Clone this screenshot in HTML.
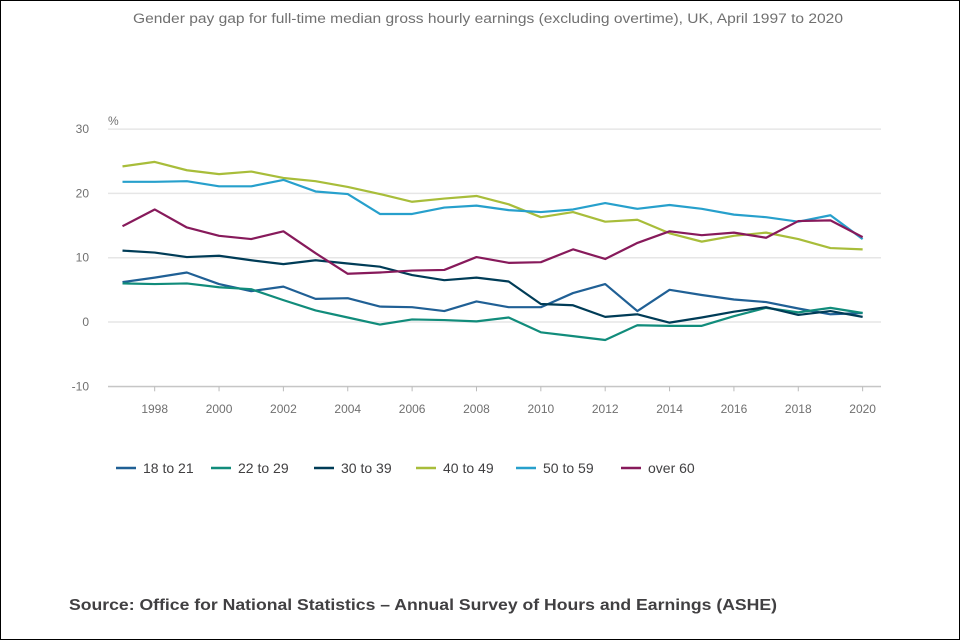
<!DOCTYPE html>
<html><head><meta charset="utf-8"><style>
body{margin:0;background:#fff;}
#wrap{position:relative;width:958px;height:638px;border:1px solid #000;font-family:"Liberation Sans",sans-serif;}
svg text{font-family:"Liberation Sans",sans-serif;}
</style></head><body>
<div id="wrap">
<svg id="chart" width="958" height="638">
<text x="132" y="22" textLength="710" lengthAdjust="spacingAndGlyphs" font-size="13.5" fill="#707070">Gender pay gap for full-time median gross hourly earnings (excluding overtime), UK, April 1997 to 2020</text>
<text x="107" y="124" font-size="12" fill="#707070">%</text>
<text x="68" y="609" textLength="708" lengthAdjust="spacingAndGlyphs" font-size="16" font-weight="bold" fill="#414042">Source: Office for National Statistics – Annual Survey of Hours and Earnings (ASHE)</text>
</svg>
</div>
<script>
const years=[1997,1998,1999,2000,2001,2002,2003,2004,2005,2006,2007,2008,2009,2010,2011,2012,2013,2014,2015,2016,2017,2018,2019,2020];
const yTicks=[30,20,10,0,-10];
const xTicks=[1998,2000,2002,2004,2006,2008,2010,2012,2014,2016,2018,2020];
const seriesNames=["18 to 21","22 to 29","30 to 39","40 to 49","50 to 59","over 60"];
const s18to21=[6.2,6.9,7.7,5.9,4.8,5.5,3.6,3.7,2.4,2.3,1.7,3.2,2.3,2.3,4.5,5.9,1.7,5.0,4.2,3.5,3.1,2.1,1.2,1.4];
const s22to29=[6.0,5.9,6.0,5.4,5.1,3.4,1.8,0.7,-0.4,0.4,0.3,0.1,0.7,-1.6,-2.2,-2.8,-0.5,-0.6,-0.6,0.9,2.2,1.5,2.2,1.4];
const s30to39=[11.1,10.8,10.1,10.3,9.6,9.0,9.6,9.1,8.6,7.3,6.5,6.9,6.3,2.8,2.6,0.8,1.2,-0.1,0.7,1.6,2.3,1.1,1.7,0.8];
const s40to49=[24.2,24.9,23.6,23.0,23.4,22.4,21.9,21.0,19.9,18.7,19.2,19.6,18.3,16.3,17.1,15.6,15.9,13.8,12.5,13.4,13.9,12.9,11.5,11.3];
const s50to59=[21.8,21.8,21.9,21.1,21.1,22.1,20.3,19.9,16.8,16.8,17.8,18.1,17.4,17.1,17.5,18.5,17.6,18.2,17.6,16.7,16.3,15.6,16.6,12.9];
const sOver60=[14.9,17.5,14.7,13.4,12.9,14.1,10.7,7.5,7.7,8.0,8.1,10.1,9.2,9.3,11.3,9.8,12.3,14.1,13.5,13.9,13.1,15.7,15.8,13.2];
const allSeries=[s18to21,s22to29,s30to39,s40to49,s50to59,sOver60];
const colors=["#206095","#118c7b","#003c57","#a8bd3a","#27a0cc","#871a5b"];
const NS="http://www.w3.org/2000/svg";
const svg=document.getElementById('chart');
const x=v=>121.5+(v-1997)*32.18;
const y=v=>321+(0-v)*6.43;
function mk(t,a){const e=document.createElementNS(NS,t);for(const k in a)e.setAttribute(k,a[k]);svg.appendChild(e);return e;}
yTicks.forEach(t=>{
  const g=mk('line',{x1:107,x2:880,y1:y(t),y2:y(t),stroke:'#e6e6e6','stroke-width':1.5});
  
  
  const l=mk('text',{x:88,y:y(t)+4,'text-anchor':'end','font-size':12,fill:'#707070'});
  l.textContent=t;
  
  
});
const ax=mk('line',{x1:107,x2:880,y1:y(-10)+0.5,y2:y(-10)+0.5,stroke:'#bbb','stroke-width':1});


xTicks.forEach(t=>{
  const tk=mk('line',{x1:x(t),x2:x(t),y1:y(-10),y2:y(-10)+5,stroke:'#bbb'});
  
  
  const l=mk('text',{x:x(t),y:412,'text-anchor':'middle','font-size':12,fill:'#707070'});
  l.textContent=t;
  
  
});
allSeries.forEach((s,i)=>{
  const p=mk('polyline',{points:s.map((v,j)=>x(years[j])+','+y(v)).join(' '),fill:'none',stroke:colors[i],'stroke-width':2.2,'stroke-linejoin':'round'});
  
  
});
const lx=[115,210,313,415,515,620];
seriesNames.forEach((n,i)=>{
  const g=mk('line',{x1:lx[i],x2:lx[i]+20,y1:467,y2:467,stroke:colors[i],'stroke-width':2.5});
  
  
  const t=mk('text',{x:lx[i]+27,y:472,'font-size':14,fill:'#414042'});
  t.textContent=n;
  
  
});
</script>
</body></html>
